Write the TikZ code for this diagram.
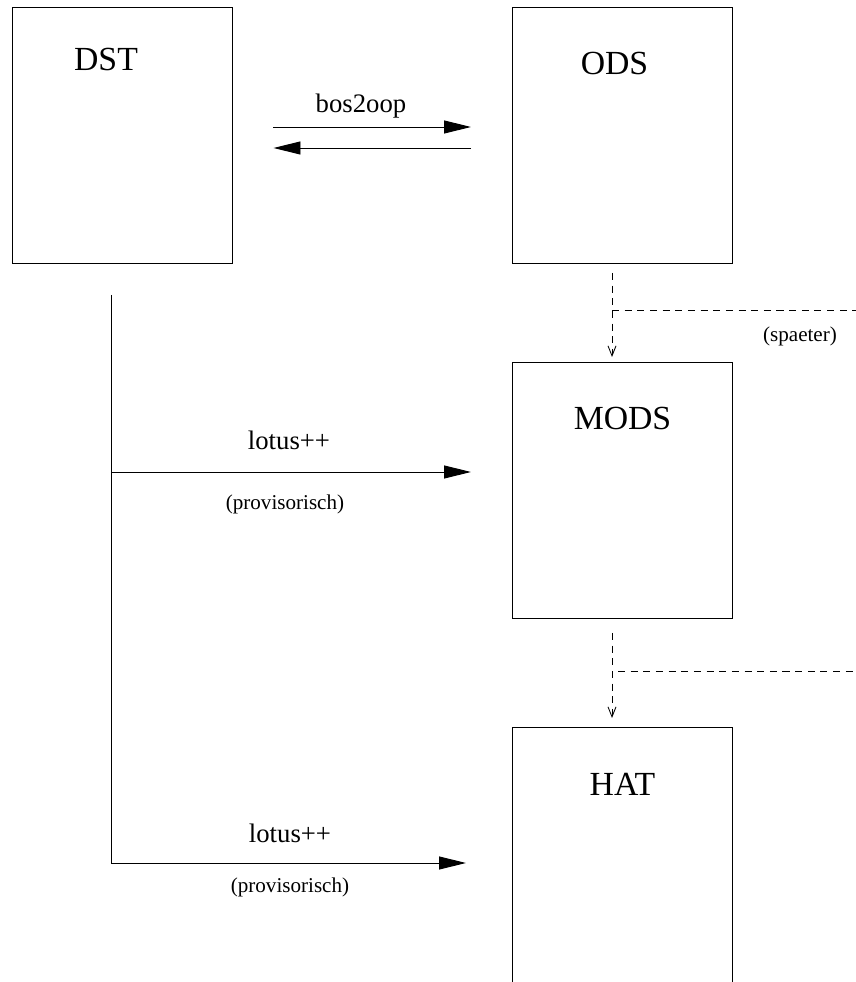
\documentclass[tikz,border=0pt]{standalone}
\usepackage{fontspec}
\setmainfont{Liberation Serif}
\usepackage{tikz}
\usetikzlibrary{arrows.meta,positioning,calc}

\begin{document}
\begin{tikzpicture}[
		block/.style={draw,line width=0.7pt,minimum width=5.5cm,minimum height=6.4cm,inner sep=0pt},
		blocktext/.style={font=\fontsize{24}{28}\selectfont,anchor=base,inner sep=0pt},
		arrowtext/.style={font=\fontsize{19}{23}\selectfont,anchor=base,inner sep=0pt},
		smalltext/.style={font=\fontsize{15}{18}\selectfont,anchor=base,inner sep=0pt},
		flow/.style={line width=0.7pt,-{Triangle[length=6.75mm,width=3.25mm]}},
		later/.style={line width=0.6pt,dash pattern=on 5pt off 4pt},
		laterflow/.style={later,-{Straight Barb[length=2.5mm,width=2mm]}}
	]
		\useasboundingbox (0,0) rectangle (21.4,24.55);
		
		\node[block] (dst) at (3.05,21.175) {};
		\node[block] (ods) at (15.5625,21.175) {};
		\node[block] (mods) at (15.5625,12.3) {};
		\node[block,minimum height=7cm,anchor=north] (hat) at (15.5625,6.375) {};
		\node[blocktext] (dstlabel) at ([xshift=-0.4cm,yshift=-1.6cm]dst.north) {DST};
		\node[blocktext] (odslabel) at ([xshift=-0.2cm,yshift=-1.7cm]ods.north) {ODS};
		\node[blocktext] (modslabel) at ([yshift=-1.7cm]mods.north) {MODS};
		\node[blocktext] (hatlabel) at ([yshift=-1.725cm]hat.north) {HAT};
		
		\coordinate (bosfrom) at ([shift={(1.025,0.2)}]dst.east);
		\coordinate (bosto) at ([shift={(-1.025,0.2)}]ods.west);
		\coordinate (oopfrom) at ([shift={(-1.025,-0.325)}]ods.west);
		\coordinate (oopto) at ([shift={(1.025,-0.325)}]dst.east);
		\draw[flow] (bosfrom) -- (bosto);
		\draw[flow] (oopfrom) -- (oopto);
		\node[arrowtext] (boslabel) at (9.025,21.725) {bos2oop};
		
		\coordinate (dstdown) at (2.775,17.175);
		\coordinate (dstmid) at (2.775,12.75);
		\coordinate (modsin) at (11.775,12.75);
		\coordinate (hatin) at (11.65,2.975);
		\draw[flow] (dstdown) |- (hatin);
		\draw[flow] (dstmid) -- (modsin);
		\node[arrowtext] (lotusa) at (7.225,13.3) {lotus++};
		\node[smalltext] (provisa) at (7.125,11.8) {(provisorisch)};
		\node[arrowtext] (lotusb) at (7.25,3.475) {lotus++};
		\node[smalltext] (provisb) at (7.25,2.225) {(provisorisch)};
		
		\coordinate (odsout) at (15.3,17.725);
		\coordinate (modstop) at (15.3,15.625);
		\coordinate (odsfork) at (15.3,16.8);
		\coordinate (odsedge) at (21.4,16.8);
		\draw[laterflow] (odsout) -- (modstop);
		\draw[later] (odsfork) -- (odsedge);
		\node[smalltext] (spaeter) at (20.0,16.0) {(spaeter)};
		
		\coordinate (modsout) at (15.3,8.725);
		\coordinate (hattop) at (15.3,6.6);
		\coordinate (modsfork) at (15.45,7.775);
		\coordinate (modsedge) at (21.4,7.775);
		\draw[laterflow] (modsout) -- (hattop);
		\draw[later] (modsfork) -- (modsedge);
	\end{tikzpicture}
\end{document}
